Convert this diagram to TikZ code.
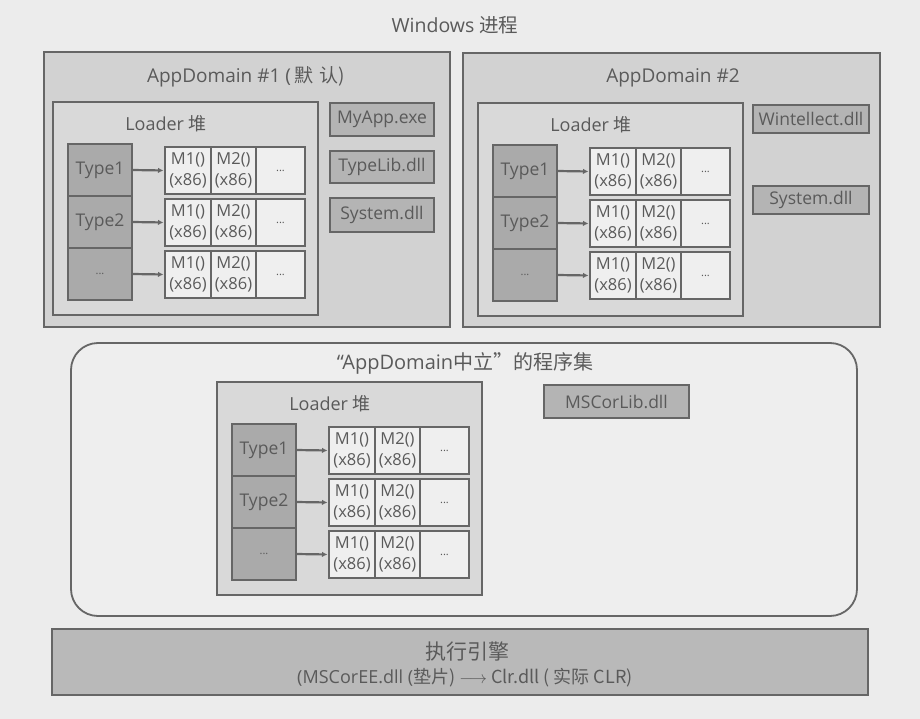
\documentclass[tikz,border=0pt]{standalone}
\usepackage{fontspec}
\setmainfont{Open Sans}
\newfontfamily\cjk{Noto Sans CJK SC}
\usetikzlibrary{arrows.meta}
\definecolor{bgc}{HTML}{ECECEC}
\definecolor{linec}{HTML}{666666}
\definecolor{txt}{HTML}{5A5A5A}
\definecolor{domfill}{HTML}{D2D2D2}
\definecolor{heapfill}{HTML}{D9D9D9}
\definecolor{typefill}{HTML}{AAAAAA}
\definecolor{cellfill}{HTML}{EFEFEF}
\definecolor{dllfill}{HTML}{B4B4B4}
\definecolor{neutfill}{HTML}{EEEEEE}
\definecolor{engfill}{HTML}{B9B9B9}
\tikzset{
  every node/.style={inner sep=0pt, outer sep=0pt, text=txt},
  domainbox/.style={draw=linec, line width=2pt, fill=domfill, anchor=north west},
  heapbox/.style={draw=linec, line width=2.5pt, fill=heapfill, anchor=north west},
  typebox/.style={draw=linec, line width=2.5pt, fill=typefill, anchor=north west,
    minimum width=64pt, minimum height=52pt, font=\fontsize{17.5}{20}\selectfont},
  cellbox/.style={draw=linec, line width=1.5pt, fill=cellfill, anchor=north west,
    align=center, minimum height=47pt, font=\fontsize{16.5}{20.5}\selectfont},
  dotsfont/.style={font=\fontsize{11}{12}\selectfont},
  rowline/.style={draw=linec, line width=2.5pt},
  dllbox/.style={draw=linec, line width=2.5pt, fill=dllfill, anchor=north west,
    font=\fontsize{17.5}{20}\selectfont},
  titletext/.style={font=\fontsize{19}{22}\selectfont},
  heaptitle/.style={font=\fontsize{18}{21}\selectfont},
  arr/.style={draw=linec, line width=2.2pt, -{Latex[length=5.5pt,width=5.5pt]}, shorten >=1.5pt},
}
\newcommand{\loaderheap}[3]{%
\begin{scope}[shift={(#2,#3)}]
\node[heapbox, minimum width=265pt, minimum height=213pt] (#1heap) at (0,0) {};
\node[heaptitle] (#1lbl) at (113,22) {Loader \cjk{堆}};
\node[typebox] (#1t1) at (15,42) {Type1};
\node[typebox] (#1t2) at (15,94) {Type2};
\node[typebox, dotsfont] (#1t3) at (15,146) {...};
\node[cellbox, minimum width=46pt] (#1r1a) at (112,45) {M1()\\(x86)};
\node[cellbox, minimum width=45pt] (#1r1b) at (158,45) {M2()\\(x86)};
\node[cellbox, minimum width=49pt, dotsfont] (#1r1c) at (203,45) {...};
\node[cellbox, minimum width=46pt] (#1r2a) at (112,97) {M1()\\(x86)};
\node[cellbox, minimum width=45pt] (#1r2b) at (158,97) {M2()\\(x86)};
\node[cellbox, minimum width=49pt, dotsfont] (#1r2c) at (203,97) {...};
\node[cellbox, minimum width=46pt] (#1r3a) at (112,149) {M1()\\(x86)};
\node[cellbox, minimum width=45pt] (#1r3b) at (158,149) {M2()\\(x86)};
\node[cellbox, minimum width=49pt, dotsfont] (#1r3c) at (203,149) {...};
\draw[rowline] (#1r1a.north west) rectangle (#1r1c.south east);
\draw[rowline] (#1r2a.north west) rectangle (#1r2c.south east);
\draw[rowline] (#1r3a.north west) rectangle (#1r3c.south east);
\draw[arr] (#1t1.east) -- (#1r1a.west);
\draw[arr] (#1t2.east) -- (#1r2a.west);
\draw[arr] (#1t3.east) -- (#1r3a.west);
\end{scope}}
\begin{document}
\begin{tikzpicture}[x=1pt,y=-1pt]
\path[fill=bgc] (0,0) rectangle (920,719);
\useasboundingbox (0,0) rectangle (920,719);

\node[font=\fontsize{19.5}{22}\selectfont] (proc) at (455,25) {Windows \cjk{进程}};

% AppDomain 1
\node[domainbox, minimum width=406pt, minimum height=275pt] (dom1) at (44,52) {};
\node[titletext] (dom1lbl) at (246,77) {AppDomain \#1 (\,\cjk{默\,\,认})};
\loaderheap{a}{53}{102}
\node[dllbox, minimum width=104pt, minimum height=33pt] (myapp) at (330,103) {MyApp.exe};
\node[dllbox, minimum width=104pt, minimum height=32pt] (typelib) at (330,151) {TypeLib.dll};
\node[dllbox, minimum width=104pt, minimum height=34pt] (sys1) at (330,198) {System.dll};

% AppDomain 2
\node[domainbox, minimum width=417pt, minimum height=274pt] (dom2) at (463,53) {};
\node[titletext] (dom2lbl) at (673,78) {AppDomain \#2};
\loaderheap{b}{478}{103}
\node[dllbox, minimum width=116pt, minimum height=28pt] (wintellect) at (753,105) {Wintellect.dll};
\node[dllbox, minimum width=116pt, minimum height=28pt] (sys2) at (753,186) {System.dll};

% Domain-neutral
\node[draw=linec, line width=1.8pt, fill=neutfill, rounded corners=27pt, anchor=north west,
  minimum width=786pt, minimum height=273pt] (neutral) at (71,343) {};
\node[font=\fontsize{20}{22}\selectfont] (neutlbl) at (465,363) {“AppDomain\cjk{中立}”\cjk{的程序集}};
\loaderheap{c}{217}{382}
\node[dllbox, minimum width=145pt, minimum height=33pt] (mscorlib) at (544,385) {MSCorLib.dll};

% Execution engine
\node[draw=linec, line width=2.5pt, fill=engfill, anchor=north west,
  minimum width=816pt, minimum height=66pt] (engine) at (52,629) {};
\node[font=\fontsize{21}{24}\selectfont] (englbl) at (467,652) {\cjk{执行引擎}};
\node[font=\fontsize{18}{20}\selectfont] (engsub) at (465,678)
  {(MSCorEE.dll (\cjk{垫片}) $\longrightarrow$ Clr.dll ( \cjk{实际} CLR)};
\end{tikzpicture}
\end{document}
